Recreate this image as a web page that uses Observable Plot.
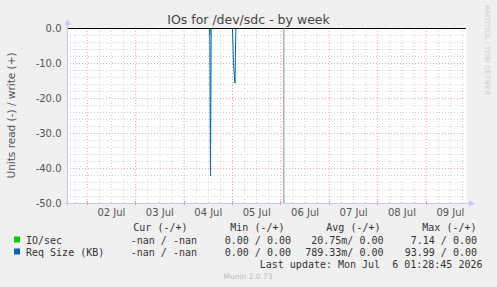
<!DOCTYPE html>
<html><head><meta charset="utf-8">
<script src="https://cdn.jsdelivr.net/npm/d3@7"></script>
<script src="https://cdn.jsdelivr.net/npm/@observablehq/plot@0.6"></script>
<style>
html,body{margin:0;padding:0;background:#f0f0f0;}
#chart{width:497px;height:287px;overflow:hidden;}
svg text{white-space:pre;}
</style></head><body><div id="chart"></div>
<script>
// ---- data ----
const title = "IOs for /dev/sdc - by week";
const yLabel = "Units read (-) / write (+)";
const xStart = "2026-07-01T14:14:00Z";
const xEnd = "2026-07-09T20:00:00Z";
const yTicks = [0, -10, -20, -30, -40, -50];
const dayTicks = ["2026-07-02T12:00:00Z","2026-07-03T12:00:00Z","2026-07-04T12:00:00Z","2026-07-05T12:00:00Z","2026-07-06T12:00:00Z","2026-07-07T12:00:00Z","2026-07-08T12:00:00Z","2026-07-09T12:00:00Z"];
const dayLabels = ["02 Jul","03 Jul","04 Jul","05 Jul","06 Jul","07 Jul","08 Jul","09 Jul"];
const ioTimes = ["2026-07-01T14:14:00Z","2026-07-04T12:30:00Z","2026-07-04T12:45:00Z","2026-07-04T13:00:00Z","2026-07-06T01:28:45Z"];
const ioValues = [0, 0, -1.7, 0, 0];
const reqTimes = ["2026-07-01T14:14:00Z","2026-07-04T12:45:00Z","2026-07-04T13:06:00Z","2026-07-04T13:27:00Z","2026-07-05T00:00:00Z","2026-07-05T00:30:00Z","2026-07-05T01:15:00Z","2026-07-05T01:40:00Z","2026-07-06T01:28:45Z"];
const reqValues = [0, 0, -42.1, 0, 0, -10, -15.6, 0, 0];
const vruleTime = "2026-07-06T01:28:45Z";
const legendHeaders = ["Cur (-/+)", "Min (-/+)", "Avg (-/+)", "Max (-/+)"];
const seriesNames = ["IO/sec", "Req Size (KB)"];
const seriesColors = ["#00cc00", "#0066b3"];
const curVals = ["-nan / -nan", "-nan / -nan"];
const minVals = ["0.00 / 0.00", "0.00 / 0.00"];
const avgVals = ["20.75m/ 0.00", "789.33m/ 0.00"];
const maxVals = ["7.14 / 0.00", "93.99 / 0.00"];
const lastUpdate = "Last update: Mon Jul  6 01:28:45 2026";
const footer = "Munin 2.0.73";
const sideText = "RRDTOOL / TOBI OETIKER";

// ---- build ----
const ioData = ioTimes.map((t, i) => ({t: new Date(t), v: ioValues[i]}));
const reqData = reqTimes.map((t, i) => ({t: new Date(t), v: reqValues[i]}));
const x0 = new Date(xStart), x1 = new Date(xEnd);
const majorX = d3.utcDay.range(d3.utcDay.ceil(x0), x1);
const minorX = d3.utcHour.every(6).range(x0, x1).filter(d => d.getUTCHours() !== 0);
const majorY = d3.range(-10, -50, -10);
const minorY = d3.range(-2, -50, -2).filter(v => v % 10 !== 0);

const gridMinor = {stroke: "#d4d4d4", strokeDasharray: "1,2", strokeWidth: 1};
const gridMajor = {stroke: "#eba3a3", strokeDasharray: "1,2", strokeWidth: 1};

const plot = Plot.plot({
  width: 497, height: 287,
  marginTop: 28, marginBottom: 84, marginLeft: 67, marginRight: 31,
  style: {background: "#f0f0f0", fontFamily: "'DejaVu Sans', sans-serif", fontSize: "10px", color: "#555", overflow: "visible"},
  x: {type: "utc", domain: [x0, x1]},
  y: {domain: [-50, 0]},
  marks: [
    Plot.frame({fill: "#ffffff", stroke: null}),
    Plot.ruleY(minorY, gridMinor),
    Plot.ruleX(minorX, gridMinor),
    Plot.ruleY(majorY, gridMajor),
    Plot.ruleX(majorX, gridMajor),
    Plot.line(ioData, {x: "t", y: "v", stroke: seriesColors[0], strokeWidth: 1}),
    Plot.line(reqData, {x: "t", y: "v", stroke: seriesColors[1], strokeWidth: 1}),
    Plot.ruleY([0], {stroke: "#000", strokeWidth: 1}),
    Plot.ruleX([new Date(vruleTime)], {stroke: "#888888", strokeWidth: 1}),
    Plot.axisY(yTicks, {tickSize: 0, tickPadding: 6, tickFormat: d => d.toFixed(1), label: null, fill: "#555"}),
    Plot.axisX(dayTicks.map(d => new Date(d)), {tickSize: 0, tickPadding: 5, tickFormat: (d, i) => dayLabels[i], label: null, fill: "#555"})
  ]
});
document.getElementById("chart").appendChild(plot);

const svg = d3.select(plot);
const sx = plot.scale("x"), sy = plot.scale("y");
const L = 67, R = 466, T = 28, B = 203;
const axisCol = "#c4c8f4";

// axis ticks
const tk = svg.append("g");
majorX.forEach(d => { const px = Math.round(sx.apply(d)) + 0.5; tk.append("line").attr("x1", px).attr("x2", px).attr("y1", B - 2).attr("y2", B + 2).attr("stroke", "#e89090"); });
minorX.forEach(d => { const px = Math.round(sx.apply(d)) + 0.5; tk.append("line").attr("x1", px).attr("x2", px).attr("y1", B - 1).attr("y2", B + 1).attr("stroke", "#bbb"); });
// axis lines + arrows
svg.append("line").attr("x1", L + 0.5).attr("x2", L + 0.5).attr("y1", B + 2).attr("y2", 22).attr("stroke", axisCol);
svg.append("line").attr("x1", L - 2).attr("x2", 471).attr("y1", B + 0.5).attr("y2", B + 0.5).attr("stroke", axisCol);
svg.append("path").attr("d", `M${L + 0.5},19 L${L + 3.5},25 L${L - 2.5},25 Z`).attr("fill", axisCol);
svg.append("path").attr("d", `M475,${B + 0.5} L469,${B - 2.5} L469,${B + 3.5} Z`).attr("fill", axisCol);

// title
svg.append("text").attr("x", 248.5).attr("y", 24).attr("text-anchor", "middle")
  .attr("font-family", "'DejaVu Sans', sans-serif").attr("font-size", "12.5px").attr("fill", "#444").text(title);
// y label
svg.append("text").attr("transform", `translate(15,${(T + B) / 2}) rotate(-90)`).attr("text-anchor", "middle")
  .attr("font-family", "'DejaVu Sans', sans-serif").attr("font-size", "10.5px").attr("fill", "#555").text(yLabel);
// side text
svg.append("text").attr("transform", "translate(484.5,5) rotate(90)").attr("text-anchor", "start")
  .attr("font-family", "'DejaVu Sans', sans-serif").attr("font-size", "7px").attr("fill", "#cfcfcf").text(sideText);

// legend
const mono = "'DejaVu Sans Mono', monospace";
const lg = svg.append("g").attr("font-family", mono).attr("font-size", "10px").attr("fill", "#333").attr("text-anchor", "start");
const headEnds = [187.5, 284.5, 380.5, 476.5];
legendHeaders.forEach((h, i) => lg.append("text").attr("x", headEnds[i]).attr("y", 231).attr("text-anchor", "end").text(h));
const colEnds = [197, 291, 383.5, 477];
const rowY = [243.5, 255.5];
seriesNames.forEach((n, r) => {
  lg.append("rect").attr("x", 14).attr("y", rowY[r] - 7).attr("width", 6).attr("height", 6).attr("fill", seriesColors[r]);
  lg.append("text").attr("x", 26).attr("y", rowY[r]).attr("text-anchor", "start").text(n);
  [curVals, minVals, avgVals, maxVals].forEach((arr, c) => lg.append("text").attr("x", colEnds[c]).attr("y", rowY[r]).attr("text-anchor", "end").text(arr[r]));
});
lg.append("text").attr("x", 482.5).attr("y", 267.5).attr("text-anchor", "end").text(lastUpdate);
svg.append("text").attr("x", 248).attr("y", 279).attr("text-anchor", "middle")
  .attr("font-family", "'DejaVu Sans', sans-serif").attr("font-size", "7.5px").attr("fill", "#bbb").text(footer);
</script>
</body></html>
